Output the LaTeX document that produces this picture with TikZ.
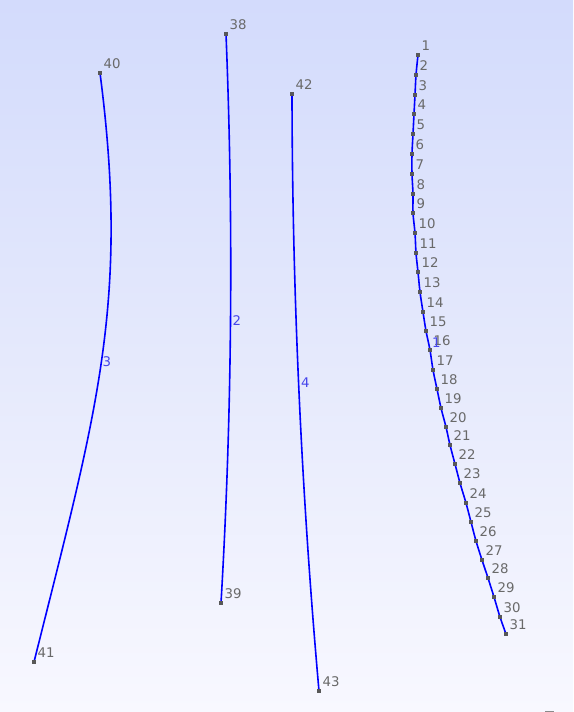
\documentclass[tikz,border=0pt]{standalone}
\usepackage{fontspec}
\setmainfont{DejaVu Sans}
\definecolor{bgtop}{RGB}{211,219,252}
\definecolor{bgbot}{RGB}{248,248,255}
\definecolor{ptgray}{RGB}{88,88,88}
\definecolor{lblgray}{RGB}{105,105,105}
\definecolor{curvelbl}{RGB}{70,70,235}
\tikzset{
  curve/.style={draw=blue, line width=1.6pt},
  pt/.style={draw=none, fill=ptgray, minimum size=4pt, inner sep=0pt, outer sep=0pt, rectangle},
  ptlabel/.style={text=lblgray, font=\fontsize{13.3}{14}\selectfont, inner sep=0pt, anchor=base west},
  clabel/.style={text=curvelbl, font=\fontsize{13.3}{14}\selectfont, inner sep=0pt, anchor=base west}
}
\begin{document}
\begin{tikzpicture}[x=1pt,y=-1pt]
\useasboundingbox (0,0) rectangle (573,712);
\shade[top color=bgtop, bottom color=bgbot, middle color={rgb,255:red,229;green,233;blue,252}] (0,0) rectangle (573,712);
% curve 1 points
\foreach \x/\y [count=\i] in {418/55, 416/75, 415/95, 414/114, 413/134, 412/154, 412/174, 413/194, 413/213, 415/233, 416/253, 418/272, 420/292, 423/312, 426/331, 430/350, 433/370, 437/389, 441/408, 446/427, 450/445, 455/464, 460/483, 466/503, 471/522, 476/541, 482/560, 488/578, 494/597, 500/617, 506/634}{
  \coordinate (c\i) at (\x,\y);
}
\draw[curve] plot[smooth] coordinates {(c1)(c2)(c3)(c4)(c5)(c6)(c7)(c8)(c9)(c10)(c11)(c12)(c13)(c14)(c15)(c16)(c17)(c18)(c19)(c20)(c21)(c22)(c23)(c24)(c25)(c26)(c27)(c28)(c29)(c30)(c31)};
% other curves
\coordinate (p38) at (226,34);
\coordinate (p39) at (221,603);
\coordinate (p40) at (100,73);
\coordinate (p41) at (34,662);
\coordinate (p42) at (292,94);
\coordinate (p43) at (319,691);
\draw[curve] (p38) .. controls (233.7,225.7) and (232,415.3) .. (p39);
\draw[curve] (p42) .. controls (292.3,292) and (301.3,491.3) .. (p43);
\draw[curve] (p40) .. controls (129.9,303) and (96.5,412) .. (p41);
% point markers and labels
\foreach \i in {1,...,31}{
  \node[pt] (n\i) at (c\i) {};
  \node[ptlabel] (l\i) at ([xshift=3.5pt,yshift=4.5pt]n\i.center) {\i};
}
\foreach \i in {38,...,43}{
  \node[pt] (n\i) at (p\i) {};
  \node[ptlabel] (l\i) at ([xshift=3.5pt,yshift=4.5pt]n\i.center) {\i};
}
% curve labels
\node[clabel] (k1) at (432,347) {1};
\node[clabel] (k2) at (232.5,325) {2};
\node[clabel] (k3) at (102.5,366) {3};
\node[clabel] (k4) at (301,387) {4};
% small mark at bottom right
\fill[ptgray!70] (545,710.5) rectangle (554,712);
\end{tikzpicture}
\end{document}
